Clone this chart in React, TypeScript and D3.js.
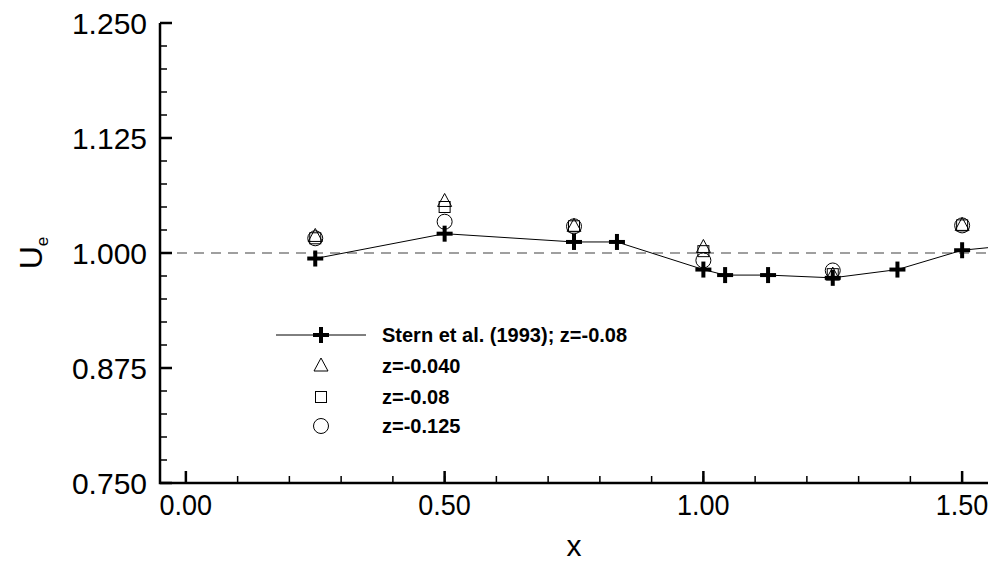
import React from "react";
import * as d3 from "d3";

const sternX = [0.25, 0.5, 0.75, 0.833, 1.0, 1.042, 1.125, 1.25, 1.375, 1.5, 1.625];
const sternY = [0.994, 1.021, 1.012, 1.012, 0.982, 0.976, 0.976, 0.973, 0.982, 1.003, 1.010];

const caseX = [0.25, 0.5, 0.75, 1.0, 1.25, 1.5];
const triY = [1.018, 1.056, 1.029, 1.006, 0.976, 1.030];
const sqY = [1.016, 1.050, 1.029, 1.002, 0.977, 1.030];
const circY = [1.016, 1.034, 1.029, 0.992, 0.981, 1.030];

const yTicks = [0.75, 0.875, 1.0, 1.125, 1.25];
const xTicks = [0.0, 0.5, 1.0, 1.5];
const legendLabels = ["Stern et al. (1993); z=-0.08", "z=-0.040", "z=-0.08", "z=-0.125"];

const W = 996, H = 564;
const L = 160, R = 988, T = 23, B = 483;

export default function App() {
  const x = d3.scaleLinear().domain([-0.05, 1.55]).range([L, R]);
  const y = d3.scaleLinear().domain([0.75, 1.25]).range([B, T]);
  const font = "'Liberation Sans', Arial, sans-serif";

  const line = d3.line<number>().x((_, i) => x(sternX[i])).y((d) => y(d));
  const yMinor = d3.range(0.75, 1.2501, 0.025);
  const xMinor = d3.range(0, 1.5501, 0.1);

  const cross = (cx: number, cy: number, k: string | number) => (
    <g key={k}>
      <line x1={cx - 8} x2={cx + 8} y1={cy} y2={cy} stroke="#000" strokeWidth={4} />
      <line x1={cx} x2={cx} y1={cy - 8} y2={cy + 8} stroke="#000" strokeWidth={4} />
    </g>
  );
  const tri = (cx: number, cy: number, k: string | number) => (
    <path key={k} d={`M${cx},${cy - 8}L${cx + 7},${cy + 5}L${cx - 7},${cy + 5}Z`} fill="none" stroke="#000" strokeWidth={1} />
  );
  const sq = (cx: number, cy: number, k: string | number) => (
    <rect key={k} x={cx - 5.5} y={cy - 5.5} width={11} height={11} fill="none" stroke="#000" strokeWidth={1} />
  );
  const circ = (cx: number, cy: number, k: string | number) => (
    <circle key={k} cx={cx} cy={cy} r={7.5} fill="none" stroke="#000" strokeWidth={1} />
  );

  const legX = 321;
  const legY = [335, 366, 397, 426];

  const yMinorPath = yMinor.map((v) => `M${L},${y(v)}h7`).join("");
  const yMajorPath = yTicks.map((v) => `M${L},${y(v)}h12`).join("");
  const xMinorPath = xMinor.map((v) => `M${x(v)},${B}v-7`).join("");
  const xMajorPath = xTicks.map((v) => `M${x(v)},${B}v-12`).join("");

  return (
    <svg width={W} height={H} style={{ position: "absolute", left: 0, top: 0, background: "#fff" }}>
      <defs>
        <clipPath id="plot">
          <rect x={L} y={T} width={R - L} height={B - T} />
        </clipPath>
      </defs>
      <line x1={L} x2={R} y1={y(1.0)} y2={y(1.0)} stroke="#808080" strokeWidth={1.5} strokeDasharray="10,7" />
      <path d={line(sternY) || ""} fill="none" stroke="#000" strokeWidth={1} clipPath="url(#plot)" />
      <g clipPath="url(#plot)">{sternY.map((v, i) => cross(x(sternX[i]), y(v), "c" + i))}</g>
      {triY.map((v, i) => tri(x(caseX[i]), y(v), "t" + i))}
      {sqY.map((v, i) => sq(x(caseX[i]), y(v), "s" + i))}
      {circY.map((v, i) => circ(x(caseX[i]), y(v), "o" + i))}

      <path d={yMinorPath} stroke="#000" strokeWidth={1.5} fill="none" />
      <path d={yMajorPath} stroke="#000" strokeWidth={2.5} fill="none" />
      <path d={xMinorPath} stroke="#000" strokeWidth={1.5} fill="none" />
      <path d={xMajorPath} stroke="#000" strokeWidth={2.5} fill="none" />
      {yTicks.map((v) => (
        <text key={"yt" + v} x={L - 13} y={y(v)} dy="0.36em" textAnchor="end" fontFamily={font} fontSize={30}>
          {d3.format(".3f")(v)}
        </text>
      ))}
      {xTicks.map((v) => (
        <text key={"xt" + v} x={x(v)} y={B + 32} textAnchor="middle" fontFamily={font} fontSize={30}
          transform={`translate(${x(v)},0) scale(0.9,1) translate(${-x(v)},0)`}>
          {d3.format(".2f")(v)}
        </text>
      ))}
      <path d={`M${L},${T}V${B}H${R}`} stroke="#000" strokeWidth={2.5} fill="none" />
      <text x={(L + R) / 2} y={556} textAnchor="middle" fontFamily={font} fontSize={30}>x</text>
      <text transform={`translate(42,${y(1.0)}) rotate(-90)`} textAnchor="middle" fontFamily={font} fontSize={32}>
        U<tspan fontSize={17} dy={6}>e</tspan>
      </text>

      <line x1={276} x2={366} y1={legY[0]} y2={legY[0]} stroke="#000" strokeWidth={1} />
      {cross(legX, legY[0], "lc")}
      {tri(legX, legY[1], "lt")}
      {sq(legX, legY[2], "ls")}
      {circ(legX, legY[3], "lo")}
      {legendLabels.map((t, i) => (
        <text key={"lg" + i} x={382} y={legY[i]} dy="0.36em" fontFamily={font} fontSize={20} fontWeight="bold">
          {t}
        </text>
      ))}
    </svg>
  );
}
